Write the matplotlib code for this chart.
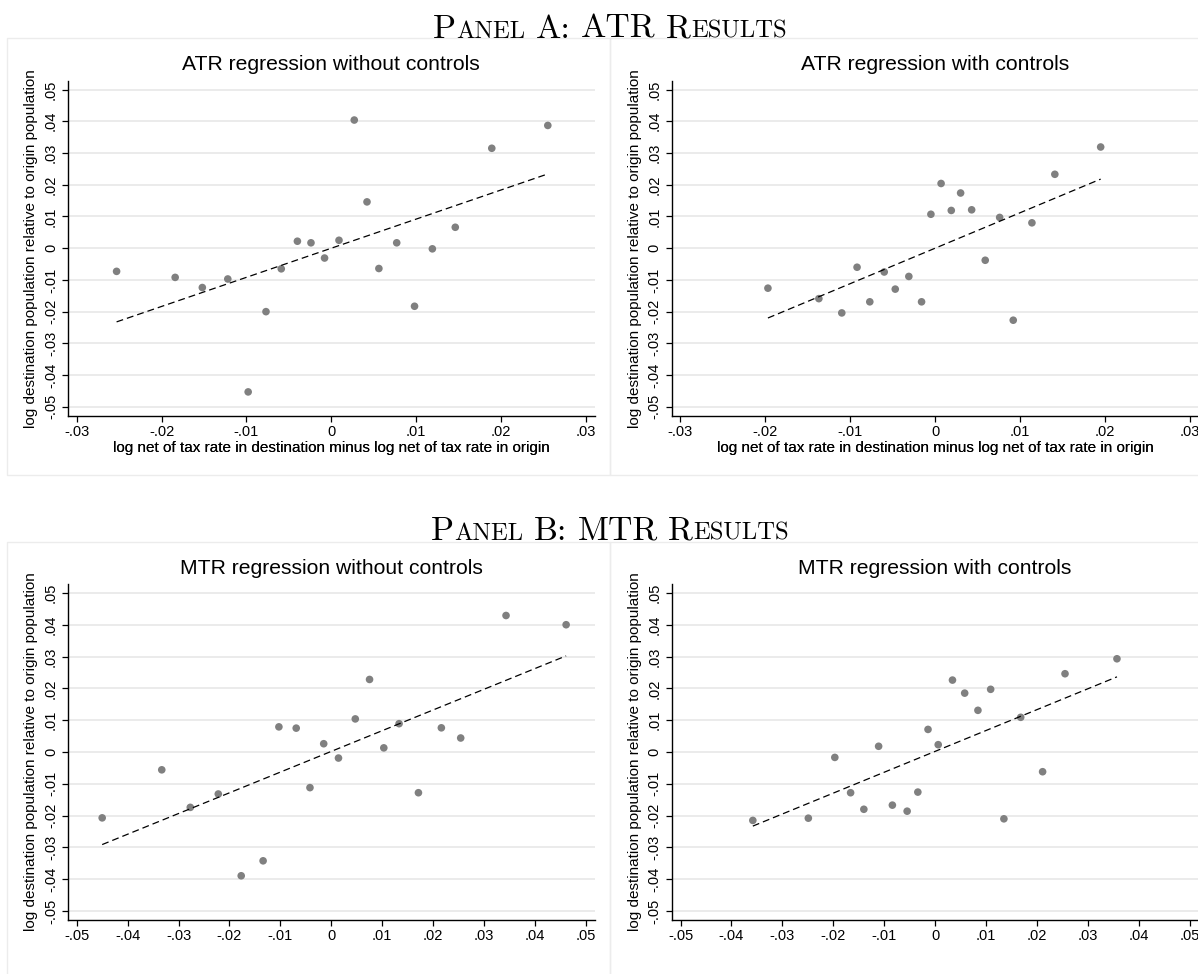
import numpy as np
import matplotlib
matplotlib.use("Agg")
import matplotlib.pyplot as plt
from matplotlib.patches import Rectangle
from matplotlib.offsetbox import TextArea, HPacker, AnnotationBbox

# binned scatter points
atr_nc_x = [-0.0253, -0.0184, -0.0152, -0.0122, -0.0098, -0.0077, -0.0059, -0.0040, -0.0024, -0.0008,
            0.0009, 0.0027, 0.0042, 0.0056, 0.0077, 0.0098, 0.0119, 0.0146, 0.0189, 0.0255]
atr_nc_y = [-0.0073, -0.0092, -0.0124, -0.0097, -0.0453, -0.0200, -0.0065, 0.0022, 0.0017, -0.0031,
            0.0025, 0.0404, 0.0146, -0.0064, 0.0017, -0.0183, -0.0002, 0.0066, 0.0315, 0.0387]

atr_c_x = [-0.0197, -0.0137, -0.0110, -0.0092, -0.0077, -0.0060, -0.0047, -0.0031, -0.0016, -0.0005,
           0.0007, 0.0019, 0.0030, 0.0043, 0.0059, 0.0076, 0.0092, 0.0114, 0.0141, 0.0195]
atr_c_y = [-0.0126, -0.0159, -0.0204, -0.0060, -0.0169, -0.0075, -0.0129, -0.0089, -0.0169, 0.0107,
           0.0204, 0.0119, 0.0174, 0.0121, -0.0038, 0.0097, -0.0227, 0.0080, 0.0233, 0.0319]

mtr_nc_x = [-0.0450, -0.0333, -0.0277, -0.0222, -0.0177, -0.0134, -0.0103, -0.0069, -0.0042, -0.0015,
            0.0014, 0.0047, 0.0075, 0.0103, 0.0133, 0.0171, 0.0216, 0.0254, 0.0343, 0.0461]
mtr_nc_y = [-0.0207, -0.0056, -0.0174, -0.0132, -0.0389, -0.0342, 0.0079, 0.0075, -0.0112, 0.0026,
            -0.0019, 0.0104, 0.0228, 0.0013, 0.0089, -0.0128, 0.0076, 0.0044, 0.0429, 0.0400]

mtr_c_x = [-0.0358, -0.0249, -0.0197, -0.0166, -0.0140, -0.0111, -0.0084, -0.0055, -0.0034, -0.0014,
           0.0006, 0.0034, 0.0058, 0.0084, 0.0109, 0.0135, 0.0168, 0.0211, 0.0255, 0.0357]
mtr_c_y = [-0.0215, -0.0208, -0.0017, -0.0128, -0.0180, 0.0018, -0.0167, -0.0186, -0.0126, 0.0071,
           0.0023, 0.0226, 0.0185, 0.0131, 0.0197, -0.0210, 0.0109, -0.0062, 0.0246, 0.0293]

# fitted lines (slope, intercept)
atr_nc_fit = (0.918, 0.0000)
atr_c_fit = (1.117, 0.0000)
mtr_nc_fit = (0.651, 0.0002)
mtr_c_fit = (0.656, 0.0002)

titles = ["ATR regression without controls", "ATR regression with controls",
          "MTR regression without controls", "MTR regression with controls"]
xlabel = "log net of tax rate in destination minus log net of tax rate in origin"
ylabel = "log destination population relative to origin population"
yticks = [-0.05, -0.04, -0.03, -0.02, -0.01, 0, 0.01, 0.02, 0.03, 0.04, 0.05]
xticks_a = [-0.03, -0.02, -0.01, 0, 0.01, 0.02, 0.03]
xticks_b = [-0.05, -0.04, -0.03, -0.02, -0.01, 0, 0.01, 0.02, 0.03, 0.04, 0.05]


def lab(v):
    if abs(v) < 1e-9:
        return "0"
    s = f"{v:.2f}"
    return s.replace("0.", ".")


W, H = 1198, 974
fig = plt.figure(figsize=(W / 100, H / 100), dpi=100)
plt.rcParams['font.family'] = ['Liberation Sans', 'DejaVu Sans']

# light frames around each graph
for (x0, y0, x1, y1) in [(7, 38, 610, 475), (610, 38, 1200, 475),
                         (7, 542, 610, 980), (610, 542, 1200, 980)]:
    fig.add_artist(Rectangle((x0 / W, 1 - y1 / H), (x1 - x0) / W, (y1 - y0) / H,
                             transform=fig.transFigure, fill=False,
                             edgecolor='#ececec', lw=1.0))

panels = [
    (atr_nc_x, atr_nc_y, atr_nc_fit, 67.7, 80.7, 415.7, xticks_a, 0.03106),
    (atr_c_x, atr_c_y, atr_c_fit, 671.5, 80.7, 415.7, xticks_a, 0.03106),
    (mtr_nc_x, mtr_nc_y, mtr_nc_fit, 67.7, 584, 920, xticks_b, 0.05177),
    (mtr_c_x, mtr_c_y, mtr_c_fit, 671.5, 584, 920, xticks_b, 0.05177),
]

for i, (xs, ys, fit, left, top, bottom, xt, xl) in enumerate(panels):
    aw = 527.3
    ah = bottom - top
    ax = fig.add_axes([left / W, 1 - bottom / H, aw / W, ah / H])
    ax.set_xlim(-xl, xl)
    ax.set_ylim(-0.0528, 0.0528)
    ax.spines['top'].set_visible(False)
    ax.spines['right'].set_visible(False)
    for s in ['left', 'bottom']:
        ax.spines[s].set_linewidth(1.0)
    ax.set_yticks(yticks)
    ax.set_yticklabels([lab(v) for v in yticks], rotation=90, va='center', fontsize=10.5)
    ax.set_xticks(xt)
    ax.set_xticklabels([lab(v) for v in xt], fontsize=10.5)
    ax.tick_params(axis='both', length=4, width=0.9)
    ax.tick_params(axis='x', pad=2.5)
    ax.tick_params(axis='y', pad=3.0)
    ax.grid(axis='y', color='#e8e8e8', lw=1.2)
    ax.set_axisbelow(True)

    ax.scatter(xs, ys, s=30, color='#808080', edgecolors='none', zorder=3)
    slope, icpt = fit
    fx = np.array([min(xs), max(xs)])
    ax.plot(fx, slope * fx + icpt, color='black', lw=0.9, dashes=(5.5, 3.2), zorder=4)

    title_y = 64.3 if i < 2 else 568
    ax.text(0.5, 1 + (top - title_y) / ah, titles[i],
            transform=ax.transAxes, ha='center', va='center', fontsize=15.2)
    ax.text(0.5, (bottom - 447.7) / ah, xlabel, transform=ax.transAxes,
            ha='center', va='center', fontsize=11)
    ax.text((31.4 - 67.7) / aw, 0.5, ylabel, transform=ax.transAxes,
            ha='center', va='center', rotation=90, fontsize=11)


def heading(letter, word):
    big = dict(family='cmr10', size=24.3)
    small = dict(family='cmr10', size=17.8)
    parts = [
        HPacker(children=[TextArea("P", textprops=big), TextArea("ANEL", textprops=small)],
                sep=0, pad=0, align='baseline'),
        TextArea(letter + ":", textprops=big),
        TextArea(word, textprops=big),
        HPacker(children=[TextArea("R", textprops=big), TextArea("ESULTS", textprops=small)],
                sep=0, pad=0, align='baseline'),
    ]
    return HPacker(children=parts, sep=7.5, pad=0, align='baseline')


for letter, word, yc in [("A", "ATR", 29), ("B", "MTR", 531)]:
    ab = AnnotationBbox(heading(letter, word), (610 / W, 1 - yc / H), xycoords='figure fraction',
                        frameon=False, box_alignment=(0.5, 0.5), pad=0)
    fig.add_artist(ab)

fig.savefig("out.png", dpi=100)
